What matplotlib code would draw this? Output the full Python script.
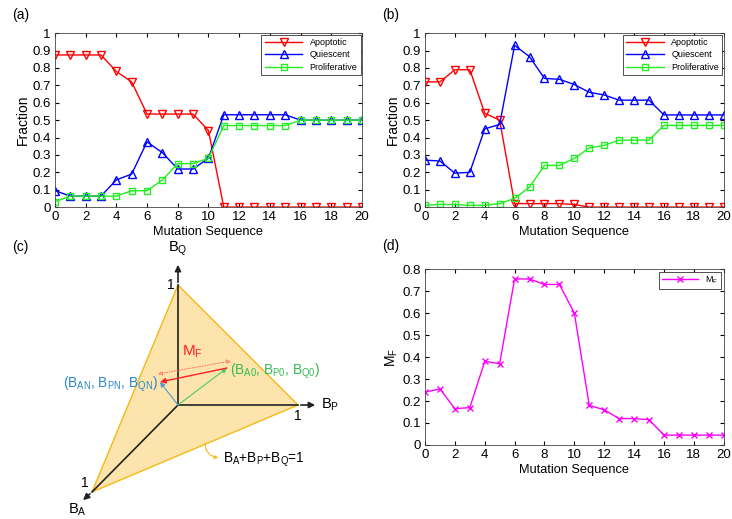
import numpy as np
import matplotlib
matplotlib.use('Agg')
import matplotlib.pyplot as plt
from matplotlib.patches import Polygon, FancyArrowPatch
from matplotlib.ticker import FuncFormatter

plt.rcParams['font.family'] = ['Liberation Sans', 'DejaVu Sans']
plt.rcParams['mathtext.fontset'] = 'custom'
plt.rcParams['mathtext.rm'] = 'Liberation Sans'
plt.rcParams['mathtext.it'] = 'Liberation Sans:italic'

steps = list(range(21))

# panel (a)
apop_a = [0.875, 0.875, 0.875, 0.875, 0.78, 0.72, 0.535, 0.535, 0.535, 0.535, 0.44,
          0, 0, 0, 0, 0, 0, 0, 0, 0, 0]
quie_a = [0.095, 0.063, 0.063, 0.063, 0.156, 0.19, 0.375, 0.313, 0.219, 0.219, 0.281,
          0.531, 0.531, 0.531, 0.531, 0.531, 0.5, 0.5, 0.5, 0.5, 0.5]
prol_a = [0.031, 0.063, 0.063, 0.063, 0.063, 0.094, 0.094, 0.156, 0.25, 0.25, 0.281,
          0.469, 0.469, 0.469, 0.469, 0.469, 0.5, 0.5, 0.5, 0.5, 0.5]

# panel (b)
apop_b = [0.72, 0.72, 0.79, 0.79, 0.54, 0.50, 0.02, 0.02, 0.02, 0.02, 0.015,
          0, 0, 0, 0, 0, 0, 0, 0, 0, 0]
quie_b = [0.27, 0.265, 0.195, 0.20, 0.45, 0.475, 0.93, 0.865, 0.74, 0.735, 0.705,
          0.66, 0.645, 0.615, 0.615, 0.615, 0.53, 0.53, 0.53, 0.53, 0.53]
prol_b = [0.01, 0.015, 0.015, 0.01, 0.01, 0.02, 0.05, 0.115, 0.24, 0.24, 0.28,
          0.34, 0.355, 0.385, 0.385, 0.385, 0.47, 0.47, 0.47, 0.47, 0.47]

# panel (d)
mf = [0.24, 0.255, 0.165, 0.17, 0.38, 0.37, 0.755, 0.755, 0.73, 0.73, 0.60,
      0.18, 0.16, 0.12, 0.12, 0.115, 0.045, 0.045, 0.045, 0.045, 0.045]

# panel (c) schematic, in pixel coords of the lower-left quarter
origin = (178, 405)
q_vertex, q_tip = (178, 285), (178, 262)
p_vertex, p_tip = (298, 405), (318, 405)
a_vertex, a_tip = (92, 492), (81, 502)
start_pt = (227, 368)
end_pt = (160, 382)

fmt = FuncFormatter(lambda v, p: '%g' % round(v, 2))


def style_axes(ax):
    ax.tick_params(direction='in', top=True, right=True, labelsize=9.5, length=3, pad=3)
    for s in ax.spines.values():
        s.set_linewidth(0.6)
        s.set_color('#444444')
    ax.yaxis.set_major_formatter(fmt)


def fraction_panel(ax, apop, quie, prol):
    ax.plot(steps, apop, color='red', marker='v', mfc='none', ms=5.5, lw=1, label='Apoptotic')
    ax.plot(steps, quie, color='blue', marker='^', mfc='none', ms=5.5, lw=1, label='Quiescent')
    ax.plot(steps, prol, color='#22ee22', marker='s', mfc='none', ms=4.5, lw=1, label='Proliferative')
    ax.set_xlim(0, 20)
    ax.set_ylim(0, 1)
    ax.set_xticks(range(0, 21, 2))
    ax.set_yticks(np.arange(0, 1.01, 0.1))
    ax.set_xlabel('Mutation Sequence', fontsize=9.2, labelpad=2)
    ax.set_ylabel('Fraction', fontsize=10, labelpad=2)
    style_axes(ax)
    leg = ax.legend(loc='upper right', fontsize=6.5, fancybox=False, framealpha=1,
                    edgecolor='#333333', borderpad=0.35, labelspacing=0.4,
                    handlelength=4.2, borderaxespad=0.15)
    leg.get_frame().set_linewidth(0.6)


fig = plt.figure(figsize=(7.32, 5.19), dpi=100)

ax_a = fig.add_axes([0.075, 0.601, 0.4195, 0.335])
fraction_panel(ax_a, apop_a, quie_a, prol_a)
ax_b = fig.add_axes([0.5806, 0.601, 0.408, 0.335])
fraction_panel(ax_b, apop_b, quie_b, prol_b)

ax_d = fig.add_axes([0.5806, 0.1426, 0.408, 0.339])
ax_d.plot(steps, mf, color='#ff00ff', marker='x', ms=4, lw=1, label=r'M$_\mathregular{F}$')
ax_d.set_xlim(0, 20)
ax_d.set_ylim(0, 0.8)
ax_d.set_xticks(range(0, 21, 2))
ax_d.set_yticks(np.arange(0, 0.81, 0.1))
ax_d.set_xlabel('Mutation Sequence', fontsize=9.2, labelpad=2)
ax_d.set_ylabel(r'M$_\mathregular{F}$', fontsize=10, labelpad=2)
style_axes(ax_d)
leg = ax_d.legend(loc='upper right', fontsize=6.5, fancybox=False, framealpha=1,
                  edgecolor='#333333', borderpad=0.3, handlelength=4, borderaxespad=0.3)
leg.get_frame().set_linewidth(0.6)

# panel (c)
ax_c = fig.add_axes([0, 0, 0.5, 0.5])
ax_c.set_xlim(0, 366)
ax_c.set_ylim(519, 259.5)
ax_c.axis('off')

ax_c.add_patch(Polygon([q_vertex, p_vertex, a_vertex], closed=True,
                       facecolor='#fde4ad', edgecolor='#f5b915', lw=1.0, zorder=1))
for v in (q_vertex, p_vertex, a_vertex):
    ax_c.plot([origin[0], v[0]], [origin[1], v[1]], color='#222222', lw=1.2, zorder=2)
for v, t in ((q_vertex, q_tip), (p_vertex, p_tip), (a_vertex, a_tip)):
    ax_c.add_patch(FancyArrowPatch(v, t, arrowstyle='-|>', mutation_scale=9,
                                   color='#222222', lw=1.2, zorder=3))

ax_c.text(q_tip[0], q_tip[1] - 4, r'B$_\mathregular{Q}$', ha='center', va='bottom', fontsize=10.5)
ax_c.text(p_tip[0] + 3, p_tip[1], r'B$_\mathregular{P}$', ha='left', va='center', fontsize=10.5)
ax_c.text(a_tip[0] - 4, 510, r'B$_\mathregular{A}$', ha='center', va='center', fontsize=10.5)
ax_c.text(q_vertex[0] - 3, q_vertex[1], '1', ha='right', va='center', fontsize=10)
ax_c.text(p_vertex[0], p_vertex[1] + 4, '1', ha='center', va='top', fontsize=10)
ax_c.text(a_vertex[0] - 3, a_vertex[1] - 2, '1', ha='right', va='bottom', fontsize=10)

ax_c.add_patch(FancyArrowPatch(origin, start_pt, arrowstyle='-|>', mutation_scale=7,
                               color='#44cc66', lw=0.8, zorder=4, shrinkA=0, shrinkB=0))
ax_c.add_patch(FancyArrowPatch(origin, end_pt, arrowstyle='-|>', mutation_scale=7,
                               color='#5599cc', lw=0.8, zorder=4, shrinkA=0, shrinkB=0))
ax_c.add_patch(FancyArrowPatch(start_pt, end_pt, arrowstyle='-|>', mutation_scale=8,
                               color='#ff2222', lw=1.0, zorder=5, shrinkA=0, shrinkB=0))
ax_c.add_patch(FancyArrowPatch((158, 374), (231, 361), arrowstyle='<|-|>', mutation_scale=6,
                               color='#ff6666', lw=0.7, ls=':', zorder=5, shrinkA=0, shrinkB=0,
                               fill=False))

ax_c.text(192, 360, r'M$_\mathregular{F}$', color='#ff2222', ha='center', va='bottom', fontsize=11)
ax_c.text(230, 371, r'(B$_\mathregular{A0}$, B$_\mathregular{P0}$, B$_\mathregular{Q0}$)',
          color='#33bb55', ha='left', va='center', fontsize=9.8)
ax_c.text(158, 384, r'(B$_\mathregular{AN}$, B$_\mathregular{PN}$, B$_\mathregular{QN}$)',
          color='#2a88cc', ha='right', va='center', fontsize=9.8)

ax_c.add_patch(FancyArrowPatch((205, 440), (221, 458), connectionstyle='arc3,rad=0.5',
                               arrowstyle='-|>', mutation_scale=5, color='#f5b915', lw=0.8))
ax_c.text(223, 460, r'B$_\mathregular{A}$+B$_\mathregular{P}$+B$_\mathregular{Q}$=1',
          ha='left', va='center', fontsize=9.8)

# panel labels
for x, y, s in ((12, 15, '(a)'), (382, 15, '(b)'), (12, 247, '(c)'), (382, 246, '(d)')):
    fig.text(x / 732, 1 - y / 519, s, fontsize=10, ha='left', va='center')

fig.savefig('out.png', dpi=100)
